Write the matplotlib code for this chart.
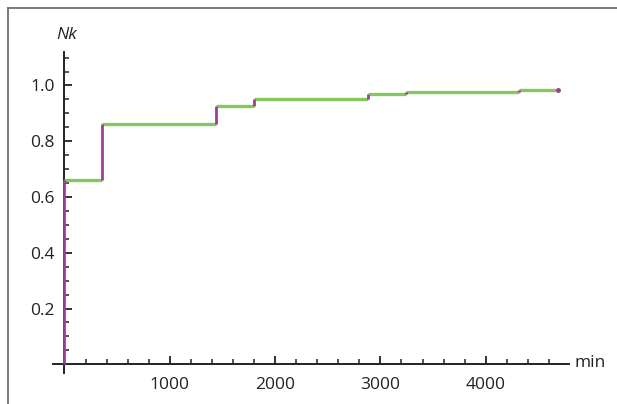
import numpy as np
import matplotlib
matplotlib.use('Agg')
import matplotlib.pyplot as plt
from matplotlib.ticker import MultipleLocator, FixedLocator

# step data (minutes, Nk)
jump_times = [0, 360, 1435, 1795, 2880, 3240, 4315]
levels = [0.66, 0.86, 0.928, 0.953, 0.968, 0.976, 0.983]
end_time = 4690

green = '#84c75c'
purple = '#9c3f98'
axcol = '#222222'

plt.rcParams['font.family'] = ['Open Sans', 'DejaVu Sans']

fig = plt.figure(figsize=(6.17, 4.04), dpi=100)
ax = fig.add_axes([0.0859, 0.0775, 0.8363, 0.7938])
ax.set_xlim(-109, 4791)
ax.set_ylim(-0.030, 1.12)

# horizontal pieces (green), vertical jumps (purple)
starts = jump_times
ends = jump_times[1:] + [end_time]
ax.hlines(levels, starts, ends, colors=green, linewidth=2.4, zorder=3)
prev = [0.0] + levels[:-1]
ax.vlines(jump_times, prev, levels, colors=purple, linewidth=2.0, zorder=4)
ax.plot([end_time], [levels[-1]], 'o', color=purple, markersize=2.5, zorder=5)

# mathematica-like axes through origin
for s in ['top', 'right']:
    ax.spines[s].set_visible(False)
ax.spines['left'].set_position(('data', 0))
ax.spines['bottom'].set_position(('data', 0))
for s in ['left', 'bottom']:
    ax.spines[s].set_color(axcol)
    ax.spines[s].set_linewidth(1.4)

ax.xaxis.set_major_locator(FixedLocator([1000, 2000, 3000, 4000]))
ax.xaxis.set_minor_locator(FixedLocator(np.arange(200, 4800, 200)))
ax.yaxis.set_major_locator(FixedLocator([0.2, 0.4, 0.6, 0.8, 1.0]))
ax.yaxis.set_minor_locator(FixedLocator(np.arange(0.05, 1.12, 0.05)))
ax.xaxis.set_major_formatter(plt.FuncFormatter(lambda v, p: '%d' % v))
ax.yaxis.set_major_formatter(plt.FuncFormatter(lambda v, p: '%.1f' % v))

ax.tick_params(axis='both', which='major', direction='in', length=6, width=1.3,
               color=axcol, labelsize=12.5, labelcolor='#222222')
ax.tick_params(axis='both', which='minor', direction='in', length=3.5, width=1.1,
               color=axcol)
ax.tick_params(axis='x', which='major', pad=9)
ax.tick_params(axis='y', which='major', pad=7)

fig.text(67 / 617, 1 - 35 / 404, 'Nk', style='italic', fontsize=12.5,
         ha='center', va='center', color='#222222')
fig.text(575 / 617, 1 - 363 / 404, 'min', fontsize=12.5,
         ha='left', va='center', color='#222222')

# frame lines of the original figure box
fig.add_artist(plt.Line2D([8 / 617, 8 / 617], [0, 1 - 8 / 404],
                          color='#666666', linewidth=1.2))
fig.add_artist(plt.Line2D([8 / 617, 1], [1 - 8 / 404, 1 - 8 / 404],
                          color='#666666', linewidth=1.2))

plt.savefig('out.png', dpi=100)
